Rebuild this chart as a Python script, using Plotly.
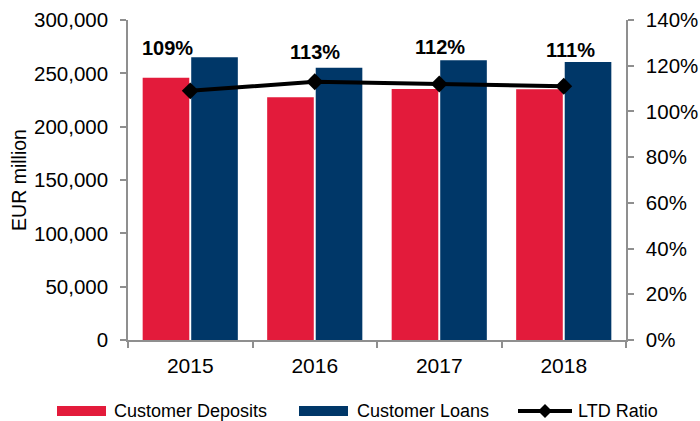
import plotly.graph_objects as go

years = ["2015", "2016", "2017", "2018"]
deposits = [245900, 227500, 235300, 235000]
loans = [265000, 255300, 262200, 260600]
ltd_ratio = [1.09, 1.13, 1.12, 1.11]
ltd_labels = ["109%", "113%", "112%", "111%"]

RED = "#E31B3B"
NAVY = "#003768"
GRID = "#8f8f8f"
FONT = "Liberation Sans, Arial, sans-serif"

# plot area in pixels
L, R, T, B = 128, 626, 20, 340
W, H = 700, 421


def px(x):
    return (x - L) / (R - L)


def py(y):
    return (B - y) / (B - T)


fig = go.Figure()
fig.add_trace(go.Bar(x=years, y=deposits, name="Customer Deposits",
                     marker=dict(color=RED, line=dict(width=0)), showlegend=False))
fig.add_trace(go.Bar(x=years, y=loans, name="Customer Loans",
                     marker=dict(color=NAVY, line=dict(width=0)), showlegend=False))
fig.add_trace(go.Scatter(x=years, y=ltd_ratio, name="LTD Ratio", yaxis="y2",
                         mode="lines+markers",
                         line=dict(color="black", width=4),
                         marker=dict(symbol="diamond", size=13, color="black"),
                         showlegend=False))

# data labels (x given as category index)
label_dx = [-23, 0, 1, 7]
label_dy = [43, 30, 37, 36]
annotations = []
for i, (v, t, dx, dy) in enumerate(zip(ltd_ratio, ltd_labels, label_dx, label_dy)):
    annotations.append(dict(x=i, y=v, xref="x", yref="y2", text="<b>%s</b>" % t,
                            showarrow=False, xshift=dx, yshift=dy,
                            font=dict(family=FONT, size=20, color="black")))

# custom legend
ly = 411
shapes = [
    dict(type="rect", xref="paper", yref="paper", x0=px(57), x1=px(106),
         y0=py(ly + 5), y1=py(ly - 5), fillcolor=RED, line=dict(width=0)),
    dict(type="rect", xref="paper", yref="paper", x0=px(299), x1=px(348),
         y0=py(ly + 5), y1=py(ly - 5), fillcolor=NAVY, line=dict(width=0)),
    dict(type="line", xref="paper", yref="paper", x0=px(518), x1=px(572),
         y0=py(ly), y1=py(ly), line=dict(color="black", width=4)),
    dict(type="path", xref="paper", yref="paper",
         path="M %f %f L %f %f L %f %f L %f %f Z" % (
             px(545), py(ly - 7), px(552), py(ly), px(545), py(ly + 7), px(538), py(ly)),
         fillcolor="black", line=dict(width=0)),
]
for x0, txt in [(112, "Customer Deposits"), (355, "Customer Loans"), (576, "LTD Ratio")]:
    annotations.append(dict(x=px(x0), y=py(ly), xref="paper", yref="paper", text=txt,
                            showarrow=False, xanchor="left", yanchor="middle",
                            font=dict(family=FONT, size=18, color="black")))

fig.update_layout(
    width=W, height=H,
    margin=dict(l=L, r=W - R, t=T, b=H - B),
    paper_bgcolor="white", plot_bgcolor="white",
    barmode="group", bargap=0.22, bargroupgap=0.04,
    font=dict(family=FONT, size=20, color="black"),
    showlegend=False,
    xaxis=dict(type="category", range=[-0.5, 3.5], showline=True, linecolor=GRID,
               linewidth=1.5, ticks="outside", tickson="boundaries", ticklen=6,
               tickcolor=GRID, tickwidth=1.5, ticklabelstandoff=6,
               tickfont=dict(size=21), tickangle=0, automargin=False),
    yaxis=dict(range=[0, 300000], dtick=50000, tickformat=",", showgrid=False,
               showline=True, linecolor=GRID, linewidth=1.5, ticks="outside",
               ticklen=6, tickcolor=GRID, tickwidth=1.5, zeroline=False,
               ticklabelstandoff=8,
               title=dict(text="EUR million", font=dict(size=19.5), standoff=2),
               tickfont=dict(size=20.5), automargin=False),
    yaxis2=dict(range=[0, 1.4], dtick=0.2, tickformat=".0%", overlaying="y",
                side="right", showgrid=False, showline=True, linecolor=GRID,
                linewidth=1.5, ticks="outside", ticklen=6, tickcolor=GRID,
                tickwidth=1.5, zeroline=False, tickfont=dict(size=20.5),
                ticklabelstandoff=8, automargin=False),
    annotations=annotations,
    shapes=shapes,
)

fig.write_html("out.html", config={"displayModeBar": False},
               post_script="document.body.style.margin='0px';")
